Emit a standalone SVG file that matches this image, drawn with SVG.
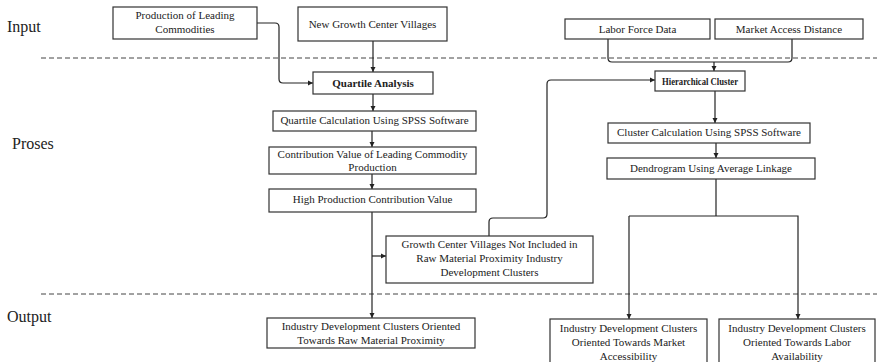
<svg xmlns="http://www.w3.org/2000/svg" width="877" height="362" viewBox="0 0 877 362">
<defs>
<marker id="ah" markerUnits="userSpaceOnUse" markerWidth="6" markerHeight="6" refX="5" refY="3" orient="auto">
<path d="M0,0.5 L5,3 L0,5.5 Z" fill="#222"/>
</marker>
<style>
.box{fill:#fff;stroke:#333;stroke-width:1.2}
.t{font-family:"Liberation Serif","Times New Roman",serif;font-size:11px;fill:#222;text-anchor:middle}
.b{font-weight:bold}
.lab{font-family:"Liberation Serif","Times New Roman",serif;font-size:16px;fill:#222}
.c{fill:none;stroke:#222;stroke-width:1.2}
.a{marker-end:url(#ah)}
.dash{stroke:#444;stroke-width:1;stroke-dasharray:5,3}
</style>
</defs>
<rect width="877" height="362" fill="#fff"/>
<g id="labels">
<text class="lab" x="7" y="32">Input</text>
<text class="lab" x="12" y="149">Proses</text>
<text class="lab" x="7" y="322">Output</text>
</g>
<g id="separators">
<line class="dash" x1="41" y1="58" x2="877" y2="58"/>
<line class="dash" x1="41" y1="294" x2="877" y2="294"/>
</g>
<g id="connectors">
<path class="c a" d="M257,23 H275 Q279,23 279,27 V79 Q279,83 283,83 H313"/>
<path class="c a" d="M373,41 V72"/>
<path class="c a" d="M373,94 V111"/>
<path class="c a" d="M372,131 V147"/>
<path class="c a" d="M372,174 V189"/>
<path class="c a" d="M372,212 V318"/>
<path class="c a" d="M372,256 H386"/>
<path class="c a" d="M489,236 V222 Q489,218 493,218 H543 Q547,218 547,214 V84 Q547,80 551,80 H655"/>
<path class="c" d="M608,39 V58 Q608,62 612,62 H788 Q792,62 792,58 V39"/>
<path class="c a" d="M714,62 V71"/>
<path class="c a" d="M715,91 V123"/>
<path class="c a" d="M716,143 V158"/>
<path class="c" d="M716,179 V216"/>
<path class="c a" d="M629,216 V319"/>
<path class="c a" d="M629,216 H798 V319"/>
</g>
<g id="prod">
<rect class="box" x="113" y="7" width="144" height="32"/>
<text class="t" x="185" y="19">Production of Leading</text>
<text class="t" x="185" y="33">Commodities</text>
</g>
<g id="newgrowth">
<rect class="box" x="298" y="7" width="149" height="34"/>
<text class="t" x="372.5" y="28">New Growth Center Villages</text>
</g>
<g id="quartile">
<rect class="box" x="313" y="72" width="120" height="22"/>
<text class="t b" x="373" y="87">Quartile Analysis</text>
</g>
<g id="qcalc">
<rect class="box" x="273" y="111" width="203" height="20"/>
<text class="t" x="374.5" y="124">Quartile Calculation Using SPSS Software</text>
</g>
<g id="contrib">
<rect class="box" x="269" y="147" width="207" height="27"/>
<text class="t" x="372.5" y="158">Contribution Value of Leading Commodity</text>
<text class="t" x="372.5" y="171">Production</text>
</g>
<g id="high">
<rect class="box" x="269" y="189" width="207" height="23"/>
<text class="t" x="372.5" y="203">High Production Contribution Value</text>
</g>
<g id="notincluded">
<rect class="box" x="386" y="236" width="207" height="47"/>
<text class="t" x="489.5" y="248">Growth Center Villages Not Included in</text>
<text class="t" x="489.5" y="262">Raw Material Proximity Industry</text>
<text class="t" x="489.5" y="276">Development Clusters</text>
</g>
<g id="outraw">
<rect class="box" x="267" y="318" width="208" height="30"/>
<text class="t" x="371" y="330">Industry Development Clusters Oriented</text>
<text class="t" x="371" y="344">Towards Raw Material Proximity</text>
</g>
<g id="labor">
<rect class="box" x="565" y="19" width="145" height="20"/>
<text class="t" x="637.5" y="33">Labor Force Data</text>
</g>
<g id="market">
<rect class="box" x="715" y="19" width="148" height="20"/>
<text class="t" x="789" y="33">Market Access Distance</text>
</g>
<g id="hier">
<rect class="box" x="655" y="71" width="90" height="20"/>
<text class="t b" x="700" y="85" font-size="10" textLength="76" lengthAdjust="spacingAndGlyphs">Hierarchical Cluster</text>
</g>
<g id="ccalc">
<rect class="box" x="608" y="123" width="202" height="20"/>
<text class="t" x="709" y="136">Cluster Calculation Using SPSS Software</text>
</g>
<g id="dendro">
<rect class="box" x="607" y="158" width="208" height="21"/>
<text class="t" x="711" y="172">Dendrogram Using Average Linkage</text>
</g>
<g id="outmarket">
<rect class="box" x="550" y="319" width="157" height="45"/>
<text class="t" x="628.5" y="332">Industry Development Clusters</text>
<text class="t" x="628.5" y="346">Oriented Towards Market</text>
<text class="t" x="628.5" y="360">Accessibility</text>
</g>
<g id="outlabor">
<rect class="box" x="719" y="319" width="156" height="45"/>
<text class="t" x="797" y="332">Industry Development Clusters</text>
<text class="t" x="797" y="346">Oriented Towards Labor</text>
<text class="t" x="797" y="360">Availability</text>
</g>
</svg>
